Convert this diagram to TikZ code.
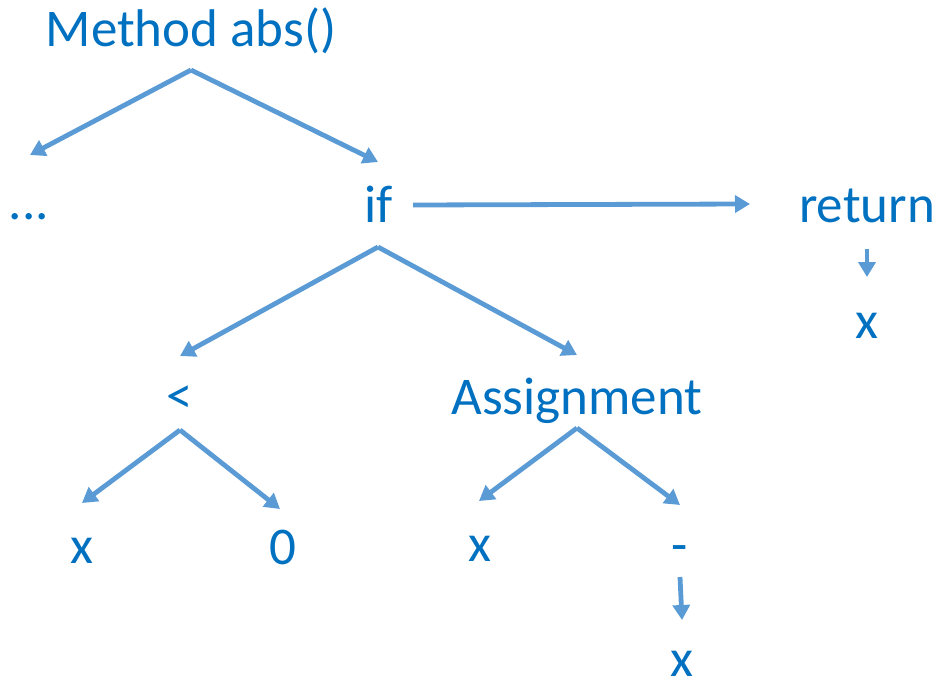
\documentclass[tikz,border=0pt]{standalone}
\usepackage{fontspec}
\setmainfont{Carlito}
\usetikzlibrary{arrows.meta}
\definecolor{txt}{HTML}{0070C0}
\definecolor{arr}{HTML}{5B9BD5}
\begin{document}
\begin{tikzpicture}[x=1pt,y=-1pt,
  lbl/.style={text=txt,font=\fontsize{53}{60}\selectfont,anchor=base,inner sep=0pt},
  conn/.style={draw=arr,line width=4.8pt,-{Triangle[length=15pt,width=17pt]}}]
\useasboundingbox (0,0) rectangle (937,682);
% labels
\node[lbl] (method) at (191,47) {Method abs()};
\node[lbl] (dots) at (29,219) {...};
\node[lbl] (if) at (379,222) {if};
\node[lbl] (ret) at (867,222) {return};
\node[lbl] (retx) at (867,338) {x};
\node[lbl] (lt) at (180,413) {<};
\node[lbl] (asg) at (577,414) {Assignment};
\node[lbl] (ltx) at (82,563) {x};
\node[lbl] (zero) at (283,564) {0};
\node[lbl] (asgx) at (480,561) {x};
\node[lbl] (minus) at (680,562) {-};
\node[lbl] (negx) at (682,676) {x};
% arrow end points
\coordinate (m0) at (191,70);
\coordinate (m1) at (30,155);
\coordinate (m2) at (378,162);
\coordinate (i0) at (413,205);
\coordinate (i1) at (750,204);
\coordinate (r0) at (867,249);
\coordinate (r1) at (867,277);
\coordinate (i2) at (378,247);
\coordinate (i3) at (180,356);
\coordinate (i4) at (577,355);
\coordinate (l0) at (180,430);
\coordinate (l1) at (82,503);
\coordinate (l2) at (280,509);
\coordinate (a0) at (577,428);
\coordinate (a1) at (479,501);
\coordinate (a2) at (680,505);
\coordinate (n0) at (680,577);
\coordinate (n1) at (682,620);
% connectors
\draw[conn] (m0) -- (m1);
\draw[conn] (m0) -- (m2);
\draw[conn] (i0) -- (i1);
\draw[conn] (r0) -- (r1);
\draw[conn] (i2) -- (i3);
\draw[conn] (i2) -- (i4);
\draw[conn] (l0) -- (l1);
\draw[conn] (l0) -- (l2);
\draw[conn] (a0) -- (a1);
\draw[conn] (a0) -- (a2);
\draw[conn] (n0) -- (n1);
\end{tikzpicture}
\end{document}
